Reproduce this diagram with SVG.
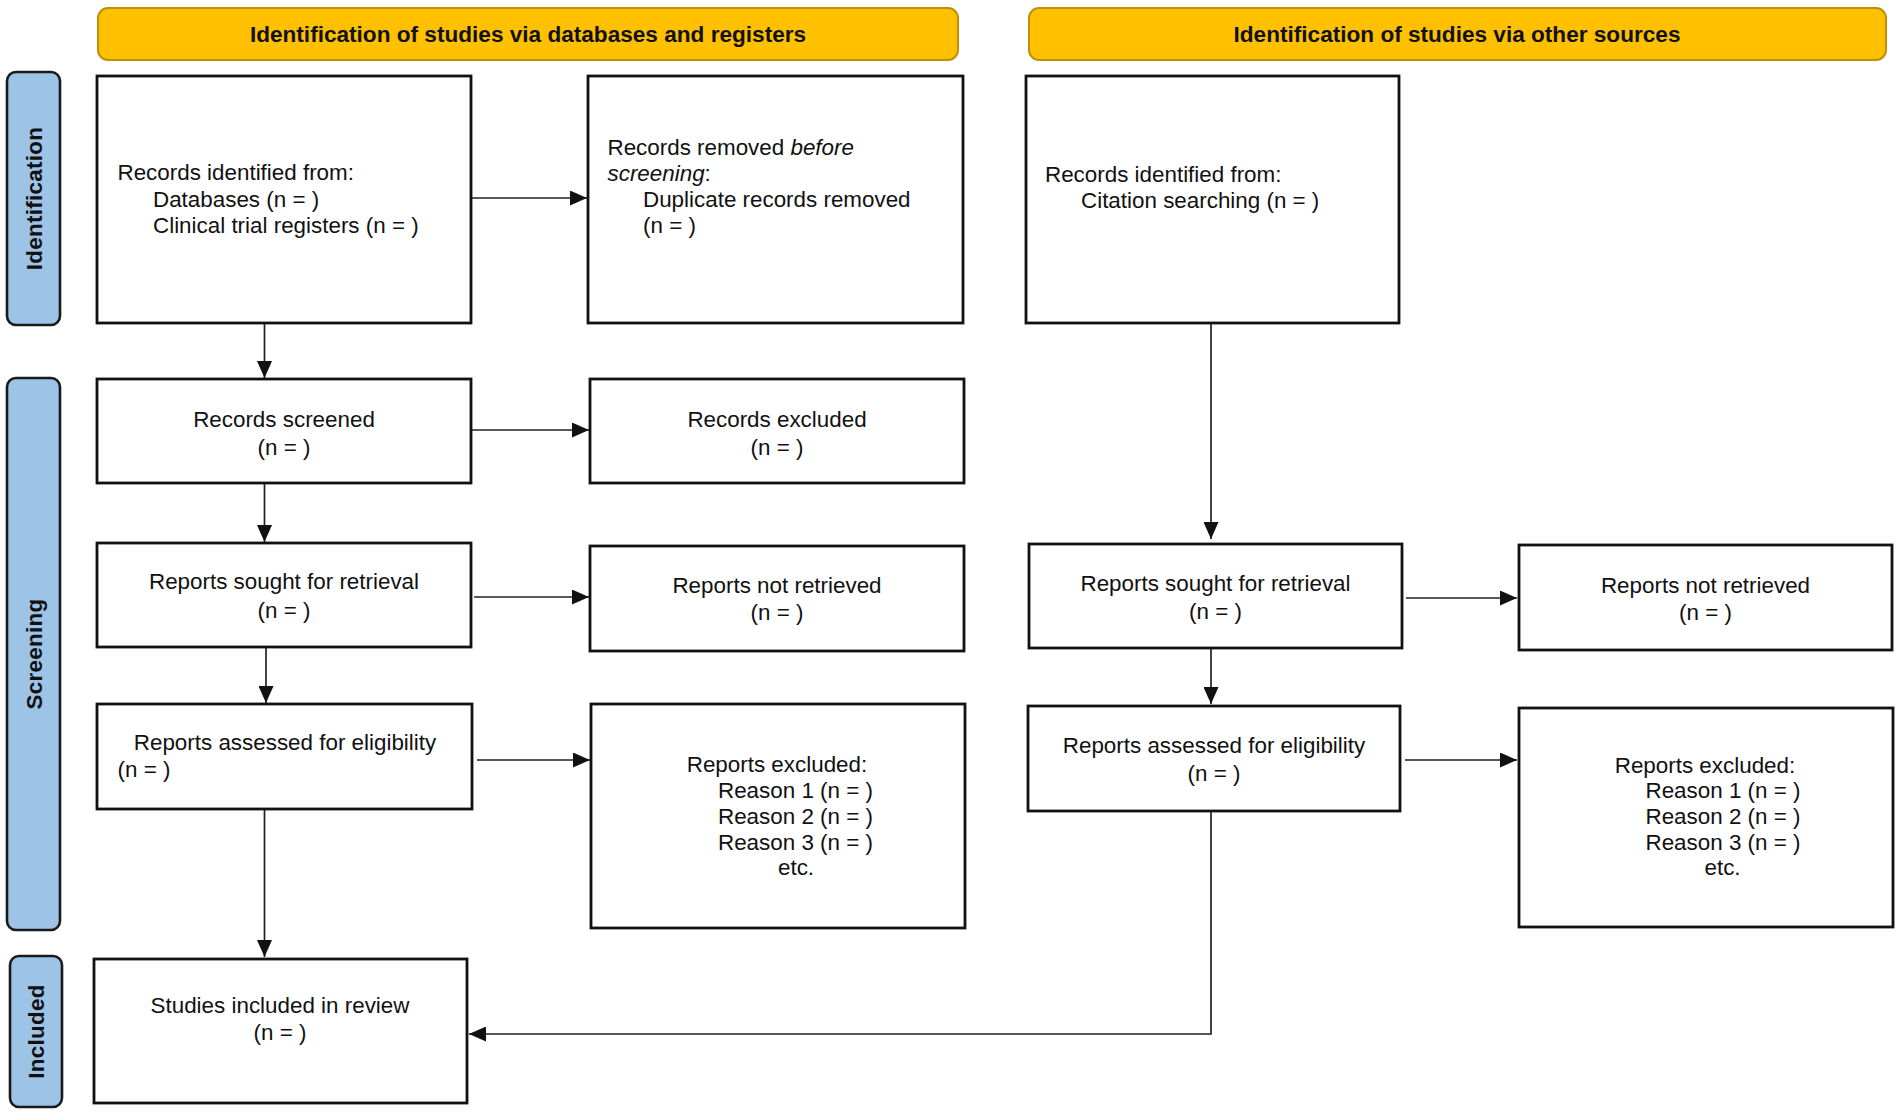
<svg xmlns="http://www.w3.org/2000/svg" width="1902" height="1115" viewBox="0 0 1902 1115">
<style>
text{font-family:"Liberation Sans",Arial,sans-serif;font-size:22.4px;fill:#111}
.hdr{fill:#FFC000;stroke:#C08E0A;stroke-width:2}
.hdrt{font-weight:bold;text-anchor:middle;font-size:22.6px}
.side{fill:#9DC3E6;stroke:#1a1a1a;stroke-width:2.6}
.sidet{font-weight:bold;text-anchor:middle;font-size:22.4px;letter-spacing:0.3px}
.box{fill:#fff;stroke:#111;stroke-width:2.8}
.c{text-anchor:middle}
.con line,.con path{stroke:#222;stroke-width:1.7;fill:none}
</style>
<defs>
<marker id="ah" markerUnits="userSpaceOnUse" markerWidth="17" markerHeight="15" refX="17" refY="7.5" orient="auto">
<path d="M0,0 L17,7.5 L0,15 z" fill="#111"/>
</marker>
</defs>
<rect width="1902" height="1115" fill="#fff"/>

<g id="header-left"><rect class="hdr" x="98" y="8" width="860" height="52" rx="10"/><text class="hdrt" x="528" y="42">Identification of studies via databases and registers</text></g>
<g id="header-right"><rect class="hdr" x="1029" y="8" width="857" height="52" rx="10"/><text class="hdrt" x="1457" y="42">Identification of studies via other sources</text></g>

<g id="side-identification"><rect class="side" x="7" y="72" width="53" height="253" rx="9"/><text class="sidet" transform="translate(42,198.5) rotate(-90)">Identification</text></g>
<g id="side-screening"><rect class="side" x="7" y="378" width="53" height="552" rx="9"/><text class="sidet" transform="translate(42,654) rotate(-90)">Screening</text></g>
<g id="side-included"><rect class="side" x="10" y="956" width="52" height="151" rx="9"/><text class="sidet" transform="translate(44,1031.5) rotate(-90)">Included</text></g>

<g id="connectors" class="con">
<line x1="471" y1="198" x2="587" y2="198" marker-end="url(#ah)"/>
<line x1="264.5" y1="323" x2="264.5" y2="378" marker-end="url(#ah)"/>
<line x1="471" y1="430" x2="589" y2="430" marker-end="url(#ah)"/>
<line x1="264.5" y1="483" x2="264.5" y2="542" marker-end="url(#ah)"/>
<line x1="474" y1="597" x2="589" y2="597" marker-end="url(#ah)"/>
<line x1="266" y1="647" x2="266" y2="703" marker-end="url(#ah)"/>
<line x1="477" y1="760" x2="590" y2="760" marker-end="url(#ah)"/>
<line x1="264.5" y1="809" x2="264.5" y2="957" marker-end="url(#ah)"/>
<line x1="1211" y1="323" x2="1211" y2="539" marker-end="url(#ah)"/>
<line x1="1406" y1="598" x2="1517" y2="598" marker-end="url(#ah)"/>
<line x1="1211" y1="648" x2="1211" y2="704" marker-end="url(#ah)"/>
<line x1="1405" y1="760" x2="1517" y2="760" marker-end="url(#ah)"/>
<path d="M1211,811 L1211,1034 L469,1034" marker-end="url(#ah)"/>
</g>

<g id="records-identified"><rect class="box" x="97" y="76" width="374" height="247"/>
<text x="117.5" y="180">Records identified from:</text>
<text x="153" y="207">Databases (n = )</text>
<text x="153" y="233">Clinical trial registers (n = )</text></g>

<g id="records-removed"><rect class="box" x="588" y="76" width="375" height="247"/>
<text x="607.5" y="155">Records removed <tspan font-style="italic">before</tspan></text>
<text x="607.5" y="181"><tspan font-style="italic">screening</tspan>:</text>
<text x="643" y="207">Duplicate records removed</text>
<text x="643" y="233">(n = )</text></g>

<g id="records-identified-other"><rect class="box" x="1026" y="76" width="373" height="247"/>
<text x="1045" y="182">Records identified from:</text>
<text x="1081" y="208">Citation searching (n = )</text></g>

<g id="records-screened"><rect class="box" x="97" y="379" width="374" height="104"/>
<text class="c" x="284" y="427">Records screened</text><text class="c" x="284" y="455">(n = )</text></g>

<g id="records-excluded"><rect class="box" x="590" y="379" width="374" height="104"/>
<text class="c" x="777" y="427">Records excluded</text><text class="c" x="777" y="455">(n = )</text></g>

<g id="reports-sought"><rect class="box" x="97" y="543" width="374" height="104"/>
<text class="c" x="284" y="589">Reports sought for retrieval</text><text class="c" x="284" y="618">(n = )</text></g>

<g id="reports-not-retrieved"><rect class="box" x="590" y="546" width="374" height="105"/>
<text class="c" x="777" y="593">Reports not retrieved</text><text class="c" x="777" y="620">(n = )</text></g>

<g id="reports-assessed"><rect class="box" x="97" y="704" width="375" height="105"/>
<text class="c" x="285" y="750">Reports assessed for eligibility</text><text x="117.5" y="777">(n = )</text></g>

<g id="reports-excluded"><rect class="box" x="591" y="704" width="374" height="224"/>
<text class="c" x="777" y="772">Reports excluded:</text>
<text x="718" y="798">Reason 1 (n = )</text>
<text x="718" y="824">Reason 2 (n = )</text>
<text x="718" y="850">Reason 3 (n = )</text>
<text class="c" x="796" y="875">etc.</text></g>

<g id="studies-included"><rect class="box" x="94" y="959" width="373" height="144"/>
<text class="c" x="280" y="1013">Studies included in review</text><text class="c" x="280" y="1040">(n = )</text></g>

<g id="reports-sought-other"><rect class="box" x="1029" y="544" width="373" height="104"/>
<text class="c" x="1215.5" y="591">Reports sought for retrieval</text><text class="c" x="1215.5" y="619">(n = )</text></g>

<g id="reports-not-retrieved-other"><rect class="box" x="1519" y="545" width="373" height="105"/>
<text class="c" x="1705.5" y="593">Reports not retrieved</text><text class="c" x="1705.5" y="620">(n = )</text></g>

<g id="reports-assessed-other"><rect class="box" x="1028" y="706" width="372" height="105"/>
<text class="c" x="1214" y="753">Reports assessed for eligibility</text><text class="c" x="1214" y="781">(n = )</text></g>

<g id="reports-excluded-other"><rect class="box" x="1519" y="708" width="374" height="219"/>
<text class="c" x="1705" y="773">Reports excluded:</text>
<text x="1645.5" y="798">Reason 1 (n = )</text>
<text x="1645.5" y="824">Reason 2 (n = )</text>
<text x="1645.5" y="850">Reason 3 (n = )</text>
<text class="c" x="1722.5" y="875">etc.</text></g>
</svg>
